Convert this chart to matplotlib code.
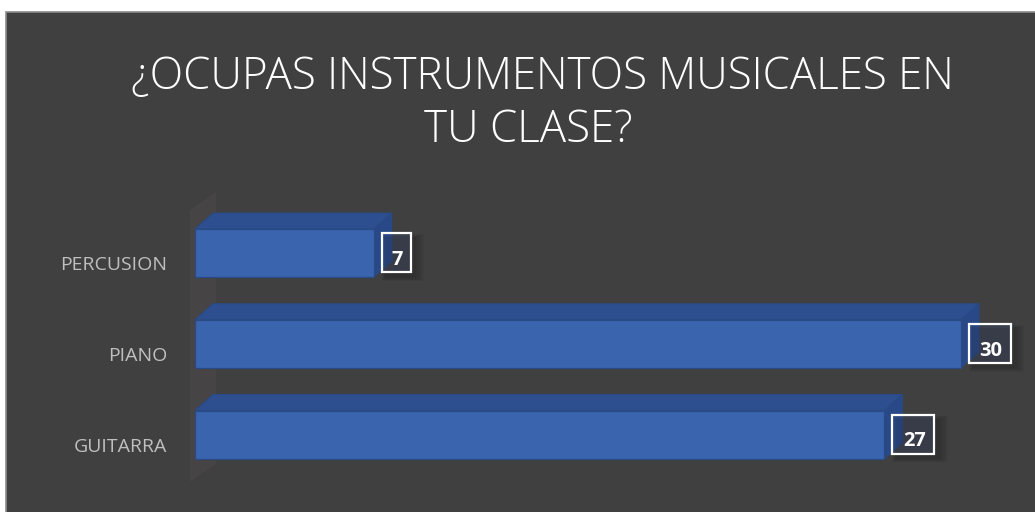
import matplotlib
matplotlib.use("Agg")
import matplotlib.pyplot as plt
from matplotlib.patches import Rectangle, Polygon
import matplotlib.transforms as mtransforms

# ---- data ----
categories = ["GUITARRA", "PIANO", "PERCUSION"]
values = [27, 30, 7]
title_lines = ["¿OCUPAS INSTRUMENTOS MUSICALES EN", "TU CLASE?"]

# ---- style ----
BG = "#404040"
FRONT = "#3A64AE"
TOP = "#2D4F8F"
SIDE = "#294887"
EDGE = "#2A4A86"
LABEL_GREY = "#BFBFBF"
FONT = "Open Sans"

W, H = 1035, 512
DPI = 100
fig = plt.figure(figsize=(W / DPI, H / DPI), dpi=DPI)
fig.patch.set_facecolor("white")

fig.add_artist(Rectangle((6 / W, -0.01), 1.02, (H - 12) / H + 0.01,
                         transform=fig.transFigure, facecolor=BG,
                         edgecolor="#8C8C8C", linewidth=1.2, zorder=0))

ppu_x = 766 / 30.0
ax_left_px, ax_bottom_px, ax_w_px, ax_h_px = 195, 22, 840, 300
ax = fig.add_axes([ax_left_px / W, ax_bottom_px / H, ax_w_px / W, ax_h_px / H])
ax.set_xlim(0, ax_w_px / ppu_x)
ppu_y = 90.7
y0 = 55.5 / ppu_y
ax.set_ylim(-y0, ax_h_px / ppu_y - y0)
ax.axis("off")
ax.patch.set_alpha(0)

bar_h = 48 / ppu_y
ddx = 18 / ppu_x
ddy = 16 / ppu_y

wx = -5 / ppu_x
wy0 = (30 - ax_bottom_px) / ppu_y - y0
wy1 = (302 - ax_bottom_px) / ppu_y - y0
wdx, wdy = 26 / ppu_x, 18 / ppu_y
ax.add_patch(Polygon([(wx, wy0), (wx, wy1), (wx + wdx, wy1 + wdy), (wx + wdx, wy0 + wdy)],
                     closed=True, facecolor="#464444", edgecolor="none", zorder=1,
                     clip_on=False))

ypos = list(range(len(categories)))
for y, v in zip(ypos, values):
    yb, yt = y - bar_h / 2, y + bar_h / 2
    ax.add_patch(Polygon([(0, yt), (v, yt), (v + ddx, yt + ddy), (ddx, yt + ddy)],
                         closed=True, facecolor=TOP, edgecolor=EDGE, lw=0.8, zorder=3,
                         clip_on=False))
    ax.add_patch(Polygon([(v, yb), (v + ddx, yb + ddy), (v + ddx, yt + ddy), (v, yt)],
                         closed=True, facecolor=SIDE, edgecolor=EDGE, lw=0.8, zorder=3,
                         clip_on=False))
ax.barh(ypos, values, height=bar_h, color=FRONT, edgecolor=EDGE, linewidth=0.9, zorder=4)

for y, v in zip(ypos, values):
    txt = str(v)
    bw = (16 + 13 * len(txt)) / ppu_x
    bx = v + 8 / ppu_x
    by0 = y - bar_h / 2 + 5 / ppu_y
    by1 = y + bar_h / 2 - 4 / ppu_y
    for k in range(1, 7):
        s = k * 2.2
        ax.add_patch(Rectangle((bx + 4 / ppu_x - s / ppu_x * 0.3, by0 - 5 / ppu_y - s / ppu_y * 0.3),
                               bw + s / ppu_x, by1 - by0 + s / ppu_y * 0.6,
                               facecolor="black", alpha=0.035, edgecolor="none", zorder=4.5,
                               clip_on=False))
    ax.add_patch(Rectangle((bx, by0), bw, by1 - by0, facecolor=(0.30, 0.40, 0.62, 0.22),
                           edgecolor="white", linewidth=1.6, zorder=6, clip_on=False))
    ax.text(bx + bw / 2 + 1 / ppu_x, by0 + 2 / ppu_y, txt, color="white", fontsize=14.5,
            fontweight="bold", family=FONT, ha="center", va="bottom", zorder=7)

lab_tr = mtransforms.offset_copy(ax.transData, fig=fig, x=0, y=-12, units="dots")
for y, c in zip(ypos, categories):
    ax.text(-28 / ppu_x, y, c, transform=lab_tr, ha="right", va="center",
            color=LABEL_GREY, fontsize=14, family=FONT)

t1 = fig.text(542 / W, 1 - 89 / H, title_lines[0], ha="center", va="baseline",
              color="white", fontsize=30, family=FONT, fontweight="light")
t2 = fig.text(528 / W, 1 - 142 / H, title_lines[1], ha="center", va="baseline",
              color="white", fontsize=30, family=FONT, fontweight="light")
fig.canvas.draw()
bb = t1.get_window_extent()
fs = 30 * 825 / bb.width
t1.set_fontsize(fs)
t2.set_fontsize(fs)

fig.savefig("out.png", dpi=DPI, facecolor=fig.get_facecolor())
